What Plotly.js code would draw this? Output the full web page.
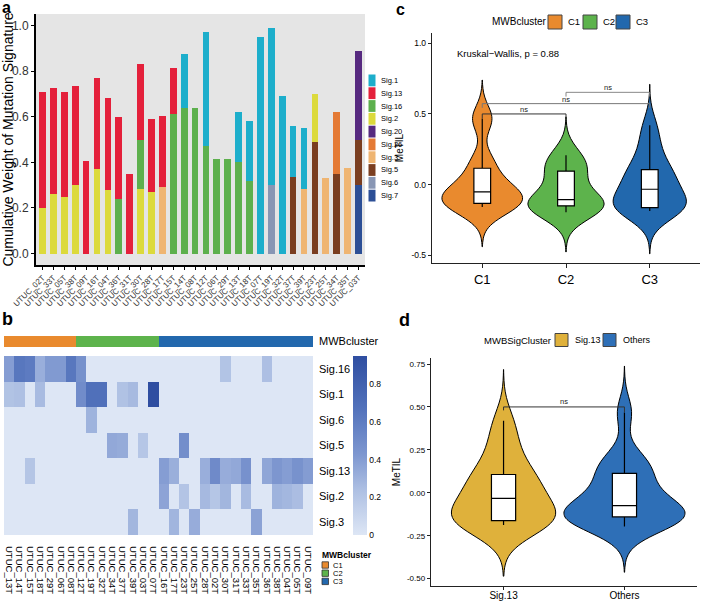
<!DOCTYPE html>
<html><head><meta charset="utf-8">
<script src="https://cdn.plot.ly/plotly-3.0.1.min.js"></script>
<style>html,body{margin:0;padding:0;background:#fff}#chart{width:703px;height:601px}</style>
</head><body><div id="chart"></div>
<script>
// ---------------- DATA ----------------
// Panel a: samples (x order) and per-signature weights (stack segment heights)
const samplesA = ['UTUC_02T','UTUC_33T','UTUC_05T','UTUC_38T','UTUC_09T','UTUC_16T','UTUC_04T','UTUC_36T','UTUC_31T','UTUC_30T','UTUC_28T','UTUC_17T','UTUC_15T','UTUC_14T','UTUC_08T','UTUC_12T','UTUC_06T','UTUC_29T','UTUC_13T','UTUC_18T','UTUC_07T','UTUC_19T','UTUC_32T','UTUC_37T','UTUC_39T','UTUC_23T','UTUC_25T','UTUC_34T','UTUC_35T','UTUC_03T'];
const sig1  = [0,0,0,0,0,0,0,0,0,0,0,0,0,0.235,0,0.50,0,0,0.22,0.26,0.95,0.69,0.69,0.225,0.265,0,0,0,0,0];
const sig13 = [0.51,0.465,0.46,0.435,0.405,0.40,0.40,0.36,0.35,0.33,0.32,0.315,0.205,0,0,0,0,0,0,0,0,0,0,0,0,0,0,0,0,0];
const sig16 = [0,0,0,0,0,0,0,0.24,0,0.215,0,0,0.61,0.64,0.64,0.47,0.415,0.415,0.40,0.32,0,0,0,0,0,0,0,0,0,0];
const sig2  = [0.20,0.26,0.25,0.30,0,0.37,0.28,0,0,0.285,0.27,0,0,0,0,0,0,0,0,0,0,0,0,0,0,0.21,0,0,0,0];
const sig20 = [0,0,0,0,0,0,0,0,0,0,0,0,0,0,0,0,0,0,0,0,0,0,0,0,0,0,0,0,0,0.39];
const sig26 = [0,0,0,0,0,0,0,0,0,0,0,0,0,0,0,0,0,0,0,0,0,0,0,0,0,0,0,0.27,0,0];
const sig3  = [0,0,0,0,0,0,0,0,0,0,0,0.29,0,0,0,0,0,0,0,0,0,0,0,0,0.285,0,0.33,0,0.375,0];
const sig5  = [0,0,0,0,0,0,0,0,0,0,0,0,0,0,0,0,0,0,0,0,0,0,0,0.335,0,0.49,0,0.35,0,0.20];
const sig6  = [0,0,0,0,0,0,0,0,0,0,0,0,0,0,0,0,0,0,0,0,0,0.30,0,0,0,0,0,0,0,0];
const sig7  = [0,0,0,0,0,0,0,0,0,0,0,0,0,0,0,0,0,0,0,0,0,0,0,0,0,0,0,0,0,0.30];
const sigNames  = ['Sig.1','Sig.13','Sig.16','Sig.2','Sig.20','Sig.26','Sig.3','Sig.5','Sig.6','Sig.7'];
const sigColors = ['#1DAECB','#E4203B','#5DB04D','#DCDA3C','#56297F','#E47A35','#EFB572','#7A3E20','#8896B4','#2C4F96'];

// Panel b: heatmap columns, clusters, rows
const heatCols = ['UTUC_13T','UTUC_14T','UTUC_15T','UTUC_18T','UTUC_29T','UTUC_06T','UTUC_08T','UTUC_12T','UTUC_19T','UTUC_32T','UTUC_34T','UTUC_37T','UTUC_39T','UTUC_03T','UTUC_07T','UTUC_16T','UTUC_17T','UTUC_23T','UTUC_25T','UTUC_28T','UTUC_02T','UTUC_30T','UTUC_31T','UTUC_33T','UTUC_35T','UTUC_36T','UTUC_38T','UTUC_04T','UTUC_05T','UTUC_09T'];
const heatClusters = ['C1','C1','C1','C1','C1','C1','C1','C2','C2','C2','C2','C2','C2','C2','C2','C3','C3','C3','C3','C3','C3','C3','C3','C3','C3','C3','C3','C3','C3','C3'];
const heatRows = ['Sig.16','Sig.1','Sig.6','Sig.5','Sig.13','Sig.2','Sig.3'];
const clusterNames = ['C1','C2','C3'];
const clusterColors = ['#E98A2E','#5DB34C','#2268AD'];

// Panel c / d: MeTIL values per cluster
const metilC1 = [-0.158,-0.14,-0.11,-0.052,0.003,0.153,0.467];
const metilC2 = [-0.196,-0.16,-0.141,-0.137,-0.075,0.06,0.13,0.207];
const metilC3 = [-0.187,-0.18,-0.17,-0.165,-0.155,-0.12,-0.08,-0.033,0.0,0.05,0.09,0.112,0.2,0.3,0.42];
const sigClusterNames = ['Sig.13','Others'];
const sigClusterColors = ['#DFB13B','#2E6FB7'];

// ---------------- HELPERS ----------------
const W = 703, H = 601;
const px = v => v / W;
const py = v => 1 - v / H;
const FONT = 'Liberation Sans, Arial, Helvetica, sans-serif';

const sigData = {'Sig.1':sig1,'Sig.13':sig13,'Sig.16':sig16,'Sig.2':sig2,'Sig.20':sig20,'Sig.26':sig26,'Sig.3':sig3,'Sig.5':sig5,'Sig.6':sig6,'Sig.7':sig7};
const sigColor = {}; sigNames.forEach((n,i)=>sigColor[n]=sigColors[i]);

const traces = [];
// Panel a stacked bars (bottom to top = reverse legend order)
sigNames.slice().reverse().forEach(n => {
  traces.push({type:'bar', x: samplesA, y: sigData[n], name: n, xaxis:'x', yaxis:'y',
    marker:{color: sigColor[n], line:{width:0}}, width:0.62, showlegend:false, hoverinfo:'skip'});
});

// Panel b heatmap
const heatZ = heatRows.map(r => heatCols.map(c => sigData[r][samplesA.indexOf(c)]));
traces.push({type:'heatmap', x: heatCols, y: heatRows, z: heatZ, xaxis:'x2', yaxis:'y2',
  zmin:0, zmax:0.95,
  colorscale:[[0,'#DDE6F5'],[0.25,'#AEC0E3'],[0.45,'#7E97D0'],[0.7,'#5373BC'],[1,'#2F4EA1']],
  colorbar:{x:px(353), xanchor:'left', xref:'paper', xpad:0, ypad:0, thickness:14, thicknessmode:'pixels',
    len:(535-356)/H, lenmode:'fraction', y:py(445.5), yanchor:'middle', outlinewidth:0,
    tickvals:[0,0.2,0.4,0.6,0.8], ticktext:['0','0.2','0.4','0.6','0.8'], ticks:'',
    tickfont:{size:8.5, family:FONT, color:'#000'}},
  hoverinfo:'skip'});
// annotation bar
traces.push({type:'heatmap', x: heatCols, y:['MWBcluster'], z:[heatClusters.map(c => clusterNames.indexOf(c)+1)],
  xaxis:'x3', yaxis:'y3', zmin:1, zmax:3, showscale:false,
  colorscale:[[0,clusterColors[0]],[0.25,clusterColors[0]],[0.25,clusterColors[1]],[0.75,clusterColors[1]],[0.75,clusterColors[2]],[1,clusterColors[2]]],
  hoverinfo:'skip'});

// Panel c violins + boxes
const groupsC = [metilC1, metilC2, metilC3];
const spanC = [[-0.44,0.74],[-0.477,0.48],[-0.49,0.71]];
const bwC = [0.093,0.094,0.098];
const widthC = [0.96,0.91,0.87];
groupsC.forEach((g,i) => {
  traces.push({type:'violin', x: g.map(()=>clusterNames[i]), y: g, xaxis:'x4', yaxis:'y4',
    fillcolor: clusterColors[i], line:{color:'#000', width:1}, opacity:1, points:false,
    spanmode:'manual', span: spanC[i], bandwidth: bwC[i], width: widthC[i], scalemode:'width',
    showlegend:false, hoverinfo:'skip'});
});
groupsC.forEach((g,i) => {
  traces.push({type:'box', x: g.map(()=>clusterNames[i]), y: g, xaxis:'x4', yaxis:'y4',
    fillcolor:'#fff', line:{color:'#000', width:1.2}, marker:{color:'#000', size:4},
    boxpoints:'outliers', width:0.2, whiskerwidth:0, quartilemethod:'linear',
    showlegend:false, hoverinfo:'skip'});
});

// Panel d violins + boxes
const groupsD = [metilC3, metilC1.concat(metilC2)];
const spanD = [[-0.486,0.718],[-0.463,0.738]];
const bwD = [0.1,0.09];
const widthD = [0.86,1.0];
groupsD.forEach((g,i) => {
  traces.push({type:'violin', x: g.map(()=>sigClusterNames[i]), y: g, xaxis:'x5', yaxis:'y5',
    fillcolor: sigClusterColors[i], line:{color:'#000', width:1}, opacity:1, points:false,
    spanmode:'manual', span: spanD[i], bandwidth: bwD[i], width: widthD[i], scalemode:'width',
    showlegend:false, hoverinfo:'skip'});
});
groupsD.forEach((g,i) => {
  traces.push({type:'box', x: g.map(()=>sigClusterNames[i]), y: g, xaxis:'x5', yaxis:'y5',
    fillcolor:'#fff', line:{color:'#000', width:1.2}, marker:{color:'#000', size:4},
    boxpoints:'outliers', width:0.2, whiskerwidth:0, quartilemethod:'linear',
    showlegend:false, hoverinfo:'skip'});
});

// ---------------- LAYOUT ----------------
const shapes = [];
const annotations = [];
// grey panel bg for a
shapes.push({type:'rect', xref:'x domain', yref:'y domain', x0:0, x1:1, y0:0, y1:1, fillcolor:'#E5E5E5', line:{width:0}, layer:'below'});

// legend a
sigNames.forEach((n,i) => {
  const y0 = 74 + i*12.8;
  shapes.push({type:'rect', xref:'paper', yref:'paper', x0:px(368.5), x1:px(375.5), y0:py(y0+0.5), y1:py(y0+12.3), fillcolor:sigColors[i], line:{width:0}});
  annotations.push({xref:'paper', yref:'paper', x:px(378.5), y:py(y0+6.4), xanchor:'left', yanchor:'middle', text:n, showarrow:false, font:{size:7.5, family:FONT, color:'#000'}});
});

// legend b
annotations.push({xref:'paper', yref:'paper', x:px(320), y:py(554.5), xanchor:'left', yanchor:'middle', text:'<b>MWBcluster</b>', showarrow:false, font:{size:8.5, family:FONT, color:'#000'}});
clusterNames.forEach((n,i) => {
  const yc = 565 + i*8.2;
  shapes.push({type:'rect', xref:'paper', yref:'paper', x0:px(322), x1:px(328.5), y0:py(yc-3.2), y1:py(yc+3.2), fillcolor:clusterColors[i], line:{color:'#333', width:0.8}});
  annotations.push({xref:'paper', yref:'paper', x:px(331), y:py(yc), xanchor:'left', yanchor:'middle', text:n, showarrow:false, font:{size:7.5, family:FONT, color:'#000'}});
});

// legend c
annotations.push({xref:'paper', yref:'paper', x:px(490), y:py(22), xanchor:'left', yanchor:'middle', text:'MWBcluster', showarrow:false, font:{size:10, family:FONT, color:'#000'}});
const legCx = [548, 583, 616];
clusterNames.forEach((n,i) => {
  shapes.push({type:'rect', xref:'paper', yref:'paper', x0:px(legCx[i]), x1:px(legCx[i]+14), y0:py(29), y1:py(15), fillcolor:clusterColors[i], line:{color:'#444', width:1}});
  annotations.push({xref:'paper', yref:'paper', x:px(legCx[i]+17.5), y:py(22), xanchor:'left', yanchor:'middle', text:n, showarrow:false, font:{size:9.5, family:FONT, color:'#000'}});
});

// legend d
annotations.push({xref:'paper', yref:'paper', x:px(482), y:py(340), xanchor:'left', yanchor:'middle', text:'MWBSigCluster', showarrow:false, font:{size:9.5, family:FONT, color:'#000'}});
const legDx = [555, 603];
sigClusterNames.forEach((n,i) => {
  shapes.push({type:'rect', xref:'paper', yref:'paper', x0:px(legDx[i]), x1:px(legDx[i]+13), y0:py(346.5), y1:py(333.5), fillcolor:sigClusterColors[i], line:{color:'#444', width:1}});
  annotations.push({xref:'paper', yref:'paper', x:px(legDx[i]+17.5), y:py(340), xanchor:'left', yanchor:'middle', text:n, showarrow:false, font:{size:9, family:FONT, color:'#000'}});
});

// significance brackets
function bracket(xr, yr, a, b, y, tipA, tipB, col, labY) {
  shapes.push({type:'line', xref:xr, yref:yr, x0:a, x1:b, y0:y, y1:y, line:{color:col, width:1}});
  shapes.push({type:'line', xref:xr, yref:yr, x0:a, x1:a, y0:y, y1:y-tipA, line:{color:col, width:1}});
  shapes.push({type:'line', xref:xr, yref:yr, x0:b, x1:b, y0:y, y1:y-tipB, line:{color:col, width:1}});
  annotations.push({xref:xr, yref:yr, x:(a+b)/2, y:labY, text:'ns', showarrow:false, yanchor:'middle', font:{size:7.5, family:FONT, color:'#222'}});
}
bracket('x4','y4',0,1,0.50,0.03,0.02,'#333',0.53);
bracket('x4','y4',0,2,0.573,0.03,0.03,'#777',0.605);
bracket('x4','y4',1,2,0.653,0.03,0.03,'#888',0.69);
bracket('x5','y5',0,1,0.50,0.02,0.03,'#333',0.53);

annotations.push({xref:'paper', yref:'paper', x:px(455), y:py(53), xanchor:'left', yanchor:'middle', text:'Kruskal\u2212Wallis, p = 0.88', showarrow:false, font:{size:9.5, family:FONT, color:'#000'}});

// panel letters
[['a',0,8,16],['b',0,318.5,18],['c',394,10,16],['d',397,320,18]].forEach(([t,x,y,s]) => {
  annotations.push({xref:'paper', yref:'paper', x:px(x), y:py(y), xanchor:'left', yanchor:'middle', text:'<b>'+t+'</b>', showarrow:false, font:{size:s, family:FONT, color:'#000'}});
});

const axBase = {showgrid:false, zeroline:false, fixedrange:true};
const layout = {
  width:W, height:H, margin:{l:0,r:0,t:0,b:0}, paper_bgcolor:'#fff', plot_bgcolor:'rgba(0,0,0,0)',
  font:{family:FONT, color:'#000'}, showlegend:false, barmode:'stack', violinmode:'overlay', boxmode:'overlay',
  hovermode:false,
  xaxis: Object.assign({}, axBase, {domain:[px(36), px(365)], anchor:'y', type:'category', categoryorder:'array', categoryarray:samplesA,
    tickmode:'array', tickvals:samplesA, ticktext:samplesA,
    range:[-0.6, 29.6], showline:true, linecolor:'#000', linewidth:2, ticks:'outside', ticklen:3, tickcolor:'#000',
    tickangle:-45, tickfont:{size:8, color:'#333'}}),
  yaxis: Object.assign({}, axBase, {domain:[py(265), py(14)], anchor:'x', range:[-0.05,1.05],
    tickvals:[0,0.2,0.4,0.6,0.8,1.0], ticktext:['0.0','0.2','0.4','0.6','0.8','1.0'],
    showline:true, linecolor:'#000', linewidth:2, ticks:'outside', ticklen:3, tickcolor:'#000',
    tickfont:{size:12, color:'#333'}, title:{text:'Cumulative Weight of Mutation Signature', font:{size:14, color:'#000'}, standoff:3}}),
  xaxis2: Object.assign({}, axBase, {domain:[px(4), px(313)], anchor:'y2', type:'category', categoryorder:'array', categoryarray:heatCols,
    tickmode:'array', tickvals:heatCols, ticktext:heatCols,
    tickangle:90, tickfont:{size:9.5, color:'#000'}, ticks:'', ticklabelstandoff:10, showline:false}),
  yaxis2: Object.assign({}, axBase, {domain:[py(535), py(356)], anchor:'x2', type:'category', categoryorder:'array', categoryarray:heatRows,
    tickmode:'array', tickvals:heatRows, ticktext:heatRows,
    autorange:'reversed', side:'right', ticks:'', ticklabelstandoff:5, tickfont:{size:11, color:'#000'}, showline:false}),
  xaxis3: Object.assign({}, axBase, {domain:[px(4), px(313)], anchor:'y3', type:'category', categoryorder:'array', categoryarray:heatCols,
    showticklabels:false, ticks:'', showline:false}),
  yaxis3: Object.assign({}, axBase, {domain:[py(347), py(336)], anchor:'x3', type:'category', side:'right', ticks:'', ticklabelstandoff:5,
    tickfont:{size:11, color:'#000'}, showline:false}),
  xaxis4: Object.assign({}, axBase, {domain:[px(432), px(700)], anchor:'y4', type:'category', categoryorder:'array', categoryarray:clusterNames,
    range:[-0.6, 2.6], showline:true, linecolor:'#222', linewidth:1.2, ticks:'outside', ticklen:4, tickcolor:'#222', tickfont:{size:13, color:'#000'}}),
  yaxis4: Object.assign({}, axBase, {domain:[py(263), py(33)], anchor:'x4', range:[-0.555,1.073],
    tickvals:[-0.5,0,0.5,1.0], ticktext:['-0.5','0.0','0.5','1.0'], showline:true, linecolor:'#222', linewidth:1.2,
    ticks:'outside', ticklen:3, tickcolor:'#222', tickfont:{size:8.5, color:'#000'},
    title:{text:'MeTIL', font:{size:10, color:'#000'}, standoff:6}}),
  xaxis5: Object.assign({}, axBase, {domain:[px(431), px(697)], anchor:'y5', type:'category', categoryorder:'array', categoryarray:sigClusterNames,
    range:[-0.6, 1.6], showline:true, linecolor:'#222', linewidth:1.2, ticks:'outside', ticklen:3, tickcolor:'#222', ticklabelstandoff:-3, tickfont:{size:10, color:'#000'}}),
  yaxis5: Object.assign({}, axBase, {domain:[py(586), py(358)], anchor:'x5', range:[-0.543,0.785],
    tickvals:[-0.5,-0.25,0,0.25,0.5,0.75], ticktext:['-0.50','-0.25','0.00','0.25','0.50','0.75'], showline:true, linecolor:'#222', linewidth:1.2,
    ticks:'outside', ticklen:3, tickcolor:'#222', tickfont:{size:8, color:'#000'},
    title:{text:'MeTIL', font:{size:10, color:'#000'}, standoff:4}}),
  shapes: shapes,
  annotations: annotations
};

Plotly.newPlot('chart', traces, layout, {displayModeBar:false, staticPlot:true});
</script></body></html>
